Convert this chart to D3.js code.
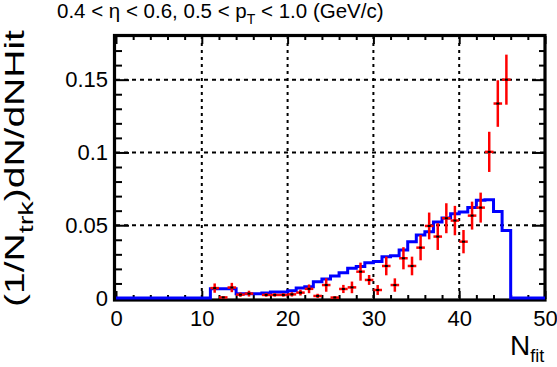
<!DOCTYPE html>
<html>
<head>
<meta charset="utf-8">
<script src="https://cdn.jsdelivr.net/npm/d3@7"></script>
<style>
  body { margin: 0; background: #fff; }
  svg { display: block; font-family: "Liberation Sans", Arial, sans-serif; }
</style>
</head>
<body>
<div id="chart"><svg></svg></div>
<script>
const width = 557;
const height = 367;

// simulated histogram (blue), one value per unit bin, bins 0..49
const simBins = d3.range(0, 50);
const simVals = [
  0, 0, 0, 0, 0, 0, 0, 0, 0, 0,
  0, 0.0064, 0.0064, 0.0064, 0.0030, 0.0030, 0.0030, 0.0034, 0.0041, 0.0041,
  0.0050, 0.0069, 0.0078, 0.0112, 0.0131, 0.0151, 0.0174, 0.0204, 0.0216, 0.0243,
  0.0250, 0.0284, 0.0290, 0.0330, 0.0387, 0.0432, 0.0455, 0.0522, 0.0550, 0.0578,
  0.0590, 0.0621, 0.0672, 0.0675, 0.0594, 0.0463, 0, 0, 0, 0
];

// measured points (red) with errors
const dataX = [11.5, 12.5, 13.5, 14.5, 15.5, 17.5, 18.5, 19.5, 20.5, 21.5,
  22.5, 23.5, 24.5, 25.5, 26.5, 27.5, 28.5, 29.5, 30.5, 31.5,
  32.5, 33.5, 34.5, 35.5, 36.5, 37.5, 38.5, 39.5, 40.5, 41.5,
  42.5, 43.5, 44.5, 45.5];
const dataY = [0.0068, 0.0004, 0.0072, 0.0023, 0.0030, 0.0021, 0.0021, 0.0021, 0.0025, 0.0037,
  0.0063, 0.0014, 0.0089, 0.0003, 0.0062, 0.0073, 0.0181, 0.0124, 0.0055, 0.0220,
  0.0089, 0.0273, 0.0220, 0.0346, 0.0495, 0.0422, 0.0548, 0.0532, 0.0387, 0.0566,
  0.0621, 0.1004, 0.1336, 0.1500];
const dataErr = [0.0032, 0.0008, 0.0032, 0.0015, 0.0020, 0.0012, 0.0012, 0.0012, 0.0015, 0.0020,
  0.0030, 0.0015, 0.0046, 0.0010, 0.0028, 0.0040, 0.0062, 0.0034, 0.0034, 0.0064,
  0.0046, 0.0076, 0.0064, 0.0087, 0.0092, 0.0092, 0.0103, 0.0101, 0.0080, 0.0096,
  0.0103, 0.0138, 0.0160, 0.0172];

const xTicks = [0, 10, 20, 30, 40, 50];
const xMinor = [2, 4, 6, 8, 12, 14, 16, 18, 22, 24, 26, 28, 32, 34, 36, 38, 42, 44, 46, 48];
const yTicks = [0, 0.05, 0.1, 0.15];
const yTickLabels = ["0", "0.05", "0.1", "0.15"];
const yMinor = [0.01, 0.02, 0.03, 0.04, 0.06, 0.07, 0.08, 0.09, 0.11, 0.12, 0.13, 0.14, 0.16, 0.17];

const L = 116, R = 545, T = 36, B = 298;

const svg = d3.select('#chart').select('svg')
    .attr('width', width)
    .attr('height', height);

const x = d3.scaleLinear().domain([0, 50]).range([L, R]);
const y = d3.scaleLinear().domain([0, 0.18]).range([B, T]);

// dotted grid
const grid = svg.append('g')
    .attr('stroke', '#000')
    .attr('stroke-width', 2);
grid.selectAll('line.gx')
    .data(xTicks.slice(1, -1))
    .join('line')
    .attr('class', 'gx')
    .attr('x1', d => x(d)).attr('x2', d => x(d))
    .attr('y1', T).attr('y2', B)
    .attr('stroke-dasharray', '3,4');
grid.selectAll('line.gy')
    .data(yTicks.slice(1))
    .join('line')
    .attr('class', 'gy')
    .attr('x1', L).attr('x2', R)
    .attr('y1', d => y(d)).attr('y2', d => y(d))
    .attr('stroke-dasharray', '4,4');

// frame
svg.append('rect')
    .attr('x', L - 1.5).attr('y', T - 0.5)
    .attr('width', R - L + 1.5).attr('height', B - T + 2.5)
    .attr('fill', 'none')
    .attr('stroke', '#000')
    .attr('stroke-width', 3.2);

// axes (ticks inward)
function styleAxis(g) {
  g.select('.domain').remove();
  g.selectAll('.tick line').attr('stroke', '#000').attr('stroke-width', 2);
  g.selectAll('.tick text')
    .attr('fill', '#000')
    .style('font-size', '22px')
    .style('font-family', '"Liberation Sans", Arial, sans-serif');
}

svg.append('g')
    .attr('transform', `translate(0,${B + 1})`)
    .call(d3.axisBottom(x).tickValues(xTicks).tickSizeInner(-8).tickSizeOuter(0)
      .tickPadding(11).tickFormat(d3.format('d')))
    .call(styleAxis);
svg.append('g')
    .attr('transform', `translate(0,${B + 1})`)
    .call(d3.axisBottom(x).tickValues(xMinor).tickSizeInner(-4).tickSizeOuter(0).tickFormat(''))
    .call(styleAxis);
svg.append('g')
    .attr('transform', `translate(0,${T})`)
    .call(d3.axisTop(x).tickValues(xTicks).tickSizeInner(-8).tickSizeOuter(0).tickFormat(''))
    .call(styleAxis);
svg.append('g')
    .attr('transform', `translate(0,${T})`)
    .call(d3.axisTop(x).tickValues(xMinor).tickSizeInner(-4).tickSizeOuter(0).tickFormat(''))
    .call(styleAxis);

svg.append('g')
    .attr('transform', `translate(${L},0)`)
    .call(d3.axisLeft(y).tickValues(yTicks).tickSizeInner(-13).tickSizeOuter(0)
      .tickPadding(8).tickFormat((d, i) => yTickLabels[i]))
    .call(styleAxis);
svg.append('g')
    .attr('transform', `translate(${L},0)`)
    .call(d3.axisLeft(y).tickValues(yMinor).tickSizeInner(-6).tickSizeOuter(0).tickFormat(''))
    .call(styleAxis);
svg.append('g')
    .attr('transform', `translate(${R},0)`)
    .call(d3.axisRight(y).tickValues(yTicks).tickSizeInner(-13).tickSizeOuter(0).tickFormat(''))
    .call(styleAxis);
svg.append('g')
    .attr('transform', `translate(${R},0)`)
    .call(d3.axisRight(y).tickValues(yMinor).tickSizeInner(-6).tickSizeOuter(0).tickFormat(''))
    .call(styleAxis);

// blue histogram
const histPts = simBins.map((b, i) => [b, simVals[i]]).concat([[50, simVals[49]]]);
const step = d3.line()
    .x(d => x(d[0]))
    .y(d => y(d[1]))
    .curve(d3.curveStepAfter);
svg.append('path')
    .datum(histPts)
    .attr('d', step)
    .attr('fill', 'none')
    .attr('stroke', '#0000ff')
    .attr('stroke-width', 3);

// red points with error bars
const pts = dataX.map((d, i) => ({ x: d, v: dataY[i], e: dataErr[i] }));
const pg = svg.append('g');
pg.selectAll('line.eh')
    .data(pts)
    .join('line')
    .attr('class', 'eh')
    .attr('x1', d => x(d.x - 0.5)).attr('x2', d => x(d.x + 0.5))
    .attr('y1', d => y(d.v)).attr('y2', d => y(d.v))
    .attr('stroke', '#ff0000').attr('stroke-width', 2.5);
pg.selectAll('line.ev')
    .data(pts)
    .join('line')
    .attr('class', 'ev')
    .attr('x1', d => x(d.x)).attr('x2', d => x(d.x))
    .attr('y1', d => y(Math.max(0, d.v - d.e))).attr('y2', d => y(d.v + d.e))
    .attr('stroke', '#ff0000').attr('stroke-width', 2.5);
pg.selectAll('rect.mk')
    .data(pts)
    .join('rect')
    .attr('class', 'mk')
    .attr('x', d => x(d.x) - 1.5).attr('y', d => y(d.v) - 1)
    .attr('width', 3).attr('height', 2)
    .attr('fill', '#000');

// title
const title = svg.append('text')
    .attr('x', 57).attr('y', 18)
    .style('font-size', '20.5px')
    .attr('fill', '#000');
title.append('tspan').text('0.4 < η < 0.6, 0.5 < p');
title.append('tspan').attr('dy', 6).style('font-size', '14px').text('T');
title.append('tspan').attr('dy', -6).text(' < 1.0 (GeV/c)');

// x title
const xt = svg.append('text')
    .attr('x', 510).attr('y', 355)
    .style('font-size', '28px')
    .attr('fill', '#000');
xt.append('tspan').text('N');
xt.append('tspan').attr('dy', 7).style('font-size', '18px').text('fit');

// y title, stretched along its length like the original
const yt = svg.append('text')
    .style('font-size', '27px')
    .attr('fill', '#000');
yt.append('tspan').text('(1/N');
yt.append('tspan').attr('dy', 9).style('font-size', '20px').text('trk');
yt.append('tspan').attr('dy', -9).text(')dN/dNHit');
const natural = yt.node().getComputedTextLength();
const sx = 277 / natural;
yt.attr('transform', `translate(24,307) rotate(-90) scale(${sx},1)`);
</script>
</body>
</html>
